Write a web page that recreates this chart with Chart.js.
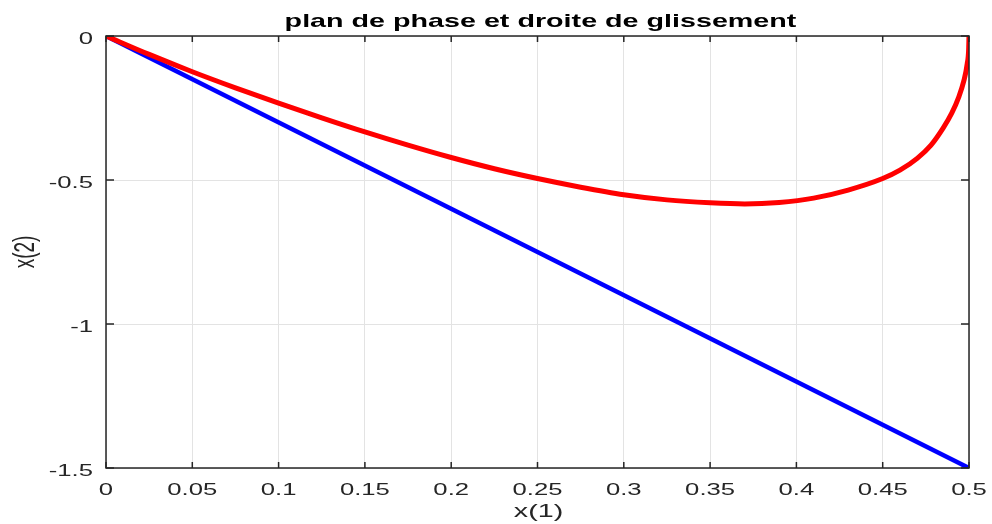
<!DOCTYPE html>
<html>
<head>
<meta charset="utf-8">
<script src="https://cdn.jsdelivr.net/npm/chart.js@4/dist/chart.umd.min.js"></script>
<style>
  html, body { margin: 0; padding: 0; background: #fff; }
  #wrap { width: 992px; height: 524px; }
</style>
</head>
<body>
<div id="wrap"><canvas id="phaseChart"></canvas></div>
<script>
// trajectory in the phase plane (red)
const trajX = [0, 0.025, 0.05, 0.075, 0.1, 0.125, 0.15, 0.175, 0.2, 0.225, 0.25, 0.275, 0.3, 0.325, 0.35, 0.37, 0.39, 0.41, 0.43, 0.45, 0.46, 0.47, 0.478, 0.485, 0.49, 0.494, 0.497, 0.499, 0.4998, 0.5]
const trajY = [0, -0.064, -0.124, -0.18, -0.233, -0.284, -0.333, -0.379, -0.422, -0.461, -0.495, -0.525, -0.551, -0.569, -0.579, -0.583, -0.578, -0.563, -0.535, -0.495, -0.466, -0.425, -0.379, -0.32, -0.268, -0.213, -0.156, -0.095, -0.046, 0]

// sliding line (blue)
const lineX = [0, 0.5]
const lineY = [0, -1.5]

const xTicks = [0, 0.05, 0.1, 0.15, 0.2, 0.25, 0.3, 0.35, 0.4, 0.45, 0.5]
const yTicks = [-1.5, -1, -0.5, 0]

const titleText = "plan de phase et droite de glissement"
const xLabel = "x(1)"
const yLabel = "x(2)"

const axisColor = "#262626"
const font = "'Liberation Sans', Helvetica, Arial, sans-serif"
// the reference picture is stretched sideways, text included
const SX = 1.51

function toPoints(xs, ys) {
  return xs.map((x, i) => ({ x: x, y: ys[i] }))
}

function fmt(v) {
  return String(+Number(v).toFixed(2))
}

function wideText(ctx, text, x, y, f, align, baseline, rotate) {
  ctx.save()
  ctx.translate(x, y)
  ctx.scale(SX, 1)
  if (rotate) ctx.rotate(-Math.PI / 2)
  ctx.font = f
  ctx.textAlign = align
  ctx.textBaseline = baseline
  ctx.fillText(text, 0, 0)
  ctx.restore()
}

// box, inward tick marks and all the labels, matlab style
const matlabAxes = {
  id: "matlabAxes",
  afterDraw(chart) {
    const { ctx, chartArea: a, scales } = chart
    ctx.save()
    ctx.strokeStyle = axisColor
    ctx.lineWidth = 1.5
    ctx.strokeRect(a.left, a.top, a.right - a.left, a.bottom - a.top)
    ctx.beginPath()
    xTicks.forEach((v) => {
      const px = scales.x.getPixelForValue(v)
      ctx.moveTo(px, a.bottom)
      ctx.lineTo(px, a.bottom - 6)
      ctx.moveTo(px, a.top)
      ctx.lineTo(px, a.top + 6)
    })
    yTicks.forEach((v) => {
      const py = scales.y.getPixelForValue(v)
      ctx.moveTo(a.left, py)
      ctx.lineTo(a.left + 8, py)
      ctx.moveTo(a.right, py)
      ctx.lineTo(a.right - 8, py)
    })
    ctx.stroke()

    ctx.fillStyle = axisColor
    const tickFont = "17px " + font
    xTicks.forEach((v) => {
      wideText(ctx, fmt(v), scales.x.getPixelForValue(v), a.bottom + 26.5, tickFont, "center", "alphabetic")
    })
    yTicks.forEach((v) => {
      wideText(ctx, fmt(v), a.left - 13, scales.y.getPixelForValue(v) + 8, tickFont, "right", "alphabetic")
    })

    const labelFont = "19px " + font
    wideText(ctx, xLabel, (a.left + a.right) / 2 + 1, 517, labelFont, "center", "alphabetic")
    wideText(ctx, yLabel, 26, (a.top + a.bottom) / 2, labelFont, "center", "middle", true)

    ctx.fillStyle = "#000"
    wideText(ctx, titleText, (a.left + a.right) / 2 + 3, 27, "bold 19px " + font, "center", "alphabetic")
    ctx.restore()
  },
}

new Chart(document.getElementById("phaseChart"), {
  type: "scatter",
  data: {
    datasets: [
      {
        label: "trajectoire",
        data: toPoints(trajX, trajY),
        showLine: true,
        borderColor: "#ff0000",
        borderWidth: 5,
        pointRadius: 0,
        cubicInterpolationMode: "monotone",
      },
      {
        label: "droite de glissement",
        data: toPoints(lineX, lineY),
        showLine: true,
        borderColor: "#0000ff",
        borderWidth: 4.5,
        pointRadius: 0,
      },
    ],
  },
  options: {
    responsive: true,
    maintainAspectRatio: false,
    animation: false,
    layout: { padding: { top: 36, right: 23, bottom: 0, left: 0 } },
    plugins: {
      legend: { display: false },
      tooltip: { enabled: false },
      title: { display: false },
    },
    scales: {
      x: {
        type: "linear",
        min: 0,
        max: 0.5,
        afterBuildTicks: (s) => { s.ticks = xTicks.map((v) => ({ value: v })) },
        afterFit: (s) => {
          s.height = 56
          s.paddingLeft = 0
          s.paddingRight = 0
        },
        grid: { color: "#e3e3e3", lineWidth: 1, drawTicks: false },
        border: { display: false },
        ticks: { display: false },
      },
      y: {
        type: "linear",
        min: -1.5,
        max: 0,
        afterBuildTicks: (s) => { s.ticks = yTicks.map((v) => ({ value: v })) },
        afterFit: (s) => {
          s.width = 106
          s.paddingTop = 0
          s.paddingBottom = 0
        },
        grid: { color: "#e3e3e3", lineWidth: 1, drawTicks: false },
        border: { display: false },
        ticks: { display: false },
      },
    },
  },
  plugins: [matlabAxes],
})
</script>
</body>
</html>
